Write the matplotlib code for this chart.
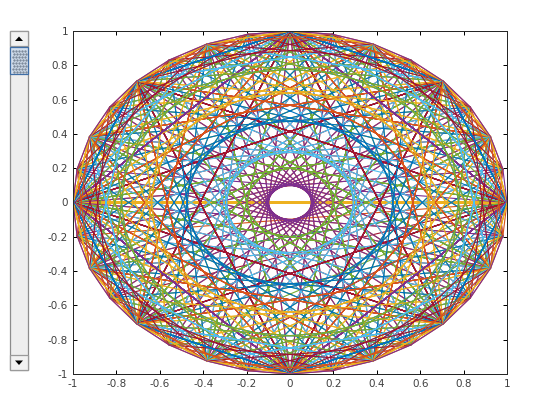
import matplotlib
matplotlib.use('Agg')
import matplotlib.pyplot as plt
from matplotlib.patches import Rectangle, Polygon

# ring points, clockwise from (1, 0)
ring_x = [1, 0.981, 0.924, 0.831, 0.707, 0.556, 0.383, 0.195,
          0, -0.195, -0.383, -0.556, -0.707, -0.831, -0.924, -0.981,
          -1, -0.981, -0.924, -0.831, -0.707, -0.556, -0.383, -0.195,
          0, 0.195, 0.383, 0.556, 0.707, 0.831, 0.924, 0.981]
ring_y = [0, -0.195, -0.383, -0.556, -0.707, -0.831, -0.924, -0.981,
          -1, -0.981, -0.924, -0.831, -0.707, -0.556, -0.383, -0.195,
          0, 0.195, 0.383, 0.556, 0.707, 0.831, 0.924, 0.981,
          1, 0.981, 0.924, 0.831, 0.707, 0.556, 0.383, 0.195]
colors = ['#0072bd', '#d95319', '#edb120', '#7e2f8e', '#77ac30', '#4dbeee', '#a2142f']
ticks = [-1, -0.8, -0.6, -0.4, -0.2, 0, 0.2, 0.4, 0.6, 0.8, 1]
tick_labels = ['-1', '-0.8', '-0.6', '-0.4', '-0.2', '0', '0.2', '0.4', '0.6', '0.8', '1']

W, H = 560, 420
n = len(ring_x)

fig = plt.figure(figsize=(W / 100, H / 100), dpi=100)
ax = fig.add_axes([73 / W, 1 - 374 / H, 434 / W, 343 / H])

# every column k walks the ring in steps of k and does not close
# aliased lines come out 2px wide in agg, so keep antialiasing on
for k in range(n):
    xs = [ring_x[(k * i) % n] for i in range(n)]
    ys = [ring_y[(k * i) % n] for i in range(n)]
    ax.plot(xs, ys, color=colors[k % len(colors)], lw=0.8)

ax.set_xlim(-1, 1)
ax.set_ylim(-1, 1)
ax.set_xticks(ticks)
ax.set_xticklabels(tick_labels)
ax.set_yticks(ticks)
ax.set_yticklabels(tick_labels)
ax.tick_params(direction='in', length=3.2, width=0.72, top=True, right=True,
               labelsize=7.5, labelcolor='#404040', pad=3.5)
for s in ax.spines.values():
    s.set_linewidth(0.72)
    s.set_color('#262626')

# slider on the left, pixel coords
ui = fig.add_axes([0, 0, 1, 1], facecolor='none')
ui.set_xlim(0, W)
ui.set_ylim(H, 0)
ui.axis('off')
ui.add_patch(Rectangle((10, 31), 17.5, 339, fc='#eeeeee', ec='#8c8c8c', lw=0.9))
ui.add_patch(Rectangle((10, 31), 17.5, 15, fc='#f2f2f2', ec='#9a9a9a', lw=0.9))
ui.add_patch(Rectangle((10, 355), 17.5, 15, fc='#f2f2f2', ec='#9a9a9a', lw=0.9))
ui.add_patch(Rectangle((10, 46.5), 17.5, 27, fc='#d3dfee', ec='#3f6ea6', lw=0.9))
for row in range(8):
    yy = 50.5 + row * 3
    xs0 = 12.5 if row % 2 == 0 else 14
    ui.plot([xs0 + c * 3 for c in range(5)], [yy] * 5, ls='none', marker='s', ms=0.7,
            color='#7d8b9b')
ui.add_patch(Polygon([[15, 41], [23, 41], [19, 36.5]], fc='black', ec='none'))
ui.add_patch(Polygon([[15, 360.5], [23, 360.5], [19, 365]], fc='black', ec='none'))

fig.savefig('out.png', dpi=100)
